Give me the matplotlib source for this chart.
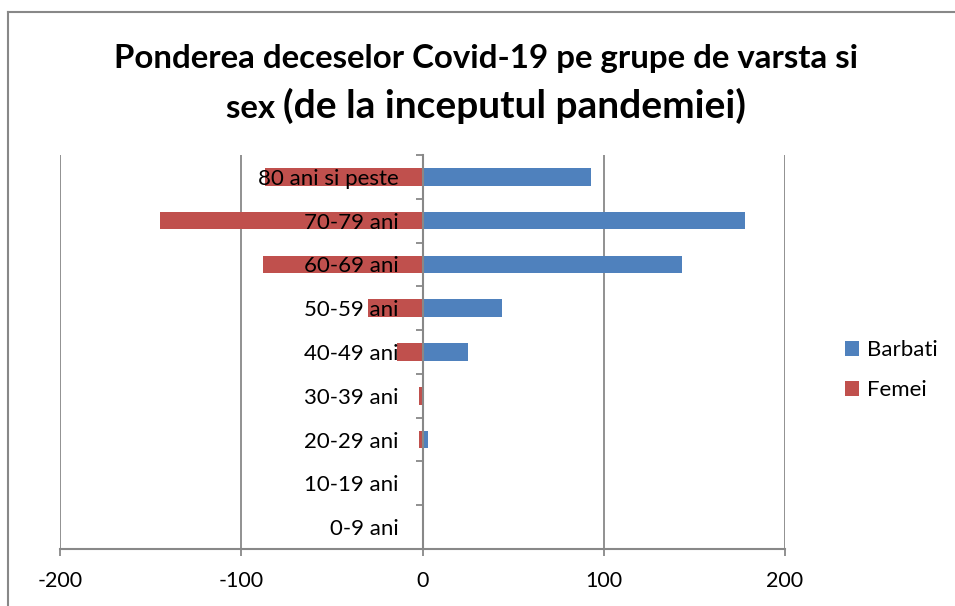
import matplotlib
matplotlib.use("Agg")
import matplotlib.pyplot as plt
from matplotlib.lines import Line2D
import numpy as np

# date (numar decese)
grupe = ['0-9 ani', '10-19 ani', '20-29 ani', '30-39 ani', '40-49 ani',
         '50-59 ani', '60-69 ani', '70-79 ani', '80 ani si peste']
barbati = [0, 0, 3, 1, 25, 44, 143, 178, 93]
femei = [0, 0, -2, -2, -14, -30, -88, -145, -87]
x_ticks = [-200, -100, 0, 100, 200]

plt.rcParams['font.family'] = ['Lato', 'DejaVu Sans']
plt.rcParams['axes.unicode_minus'] = False

GRI = '#888888'
ALBASTRU = '#4F81BD'
ROSU = '#C0504D'

fig = plt.figure(figsize=(9.55, 6.06), dpi=100)
ax = fig.add_axes([60 / 955, 1 - 549 / 606, 725 / 955, 394 / 606])

y = np.arange(len(grupe))
ax.barh(y, barbati, height=0.4, color=ALBASTRU, label='Barbati', zorder=1)
ax.barh(y, femei, height=0.4, color=ROSU, label='Femei', zorder=1)

# linii de grila sub bare
for xv in x_ticks:
    if xv != 0:
        ax.axvline(xv, color=GRI, lw=1.3, zorder=0.5)

ax.set_xlim(-200, 200)
ax.set_ylim(-0.5, len(grupe) - 0.5)

for s in ['top', 'right']:
    ax.spines[s].set_visible(False)
ax.spines['left'].set_position(('data', 0))
ax.spines['left'].set_color(GRI)
ax.spines['left'].set_linewidth(1.5)
ax.spines['bottom'].set_color(GRI)
ax.spines['bottom'].set_linewidth(1.5)

ax.set_xticks(x_ticks)
ax.tick_params(axis='x', direction='out', length=5, width=1.3, color=GRI,
               labelsize=15.5, pad=11)
ax.set_yticks(y)
ax.set_yticklabels(grupe)
ax.tick_params(axis='y', length=0, labelsize=16, pad=17)
ax.set_yticks(np.arange(-0.5, len(grupe)), minor=True)
ax.tick_params(axis='y', which='minor', direction='out', length=5, width=1.3,
               color=GRI)

ax.legend(loc='center left', bbox_to_anchor=(845 / 955, 1 - 370 / 606),
          bbox_transform=fig.transFigure, frameon=False, fontsize=16,
          handlelength=0.65, handleheight=0.65, handletextpad=0.35,
          labelspacing=0.9, borderpad=0, borderaxespad=0)

# titlu pe doua randuri, al doilea cu doua marimi
centru = 486 / 955
fig.text(centru, 1 - 68 / 606, 'Ponderea deceselor Covid-19 pe grupe de varsta si',
         ha='center', va='baseline', fontsize=23.8, fontweight='bold')
t1 = fig.text(0, 1 - 118 / 606, 'sex ', ha='left', va='baseline',
              fontsize=23.8, fontweight='bold')
t2 = fig.text(0, 1 - 118 / 606, '(de la inceputul pandemiei)', ha='left',
              va='baseline', fontsize=28, fontweight='bold')
r = fig.canvas.get_renderer()
w1 = t1.get_window_extent(r).width
w2 = t2.get_window_extent(r).width
x0 = centru - (w1 + w2) / 2 / 955
t1.set_x(x0)
t2.set_x(x0 + w1 / 955)

# chenarul graficului
fig.add_artist(Line2D([8 / 955, 8 / 955], [0, 1 - 12 / 606],
                      transform=fig.transFigure, color=GRI, lw=1.5))
fig.add_artist(Line2D([8 / 955, 1], [1 - 12 / 606, 1 - 12 / 606],
                      transform=fig.transFigure, color=GRI, lw=1.5))

fig.savefig('out.png', dpi=100)
